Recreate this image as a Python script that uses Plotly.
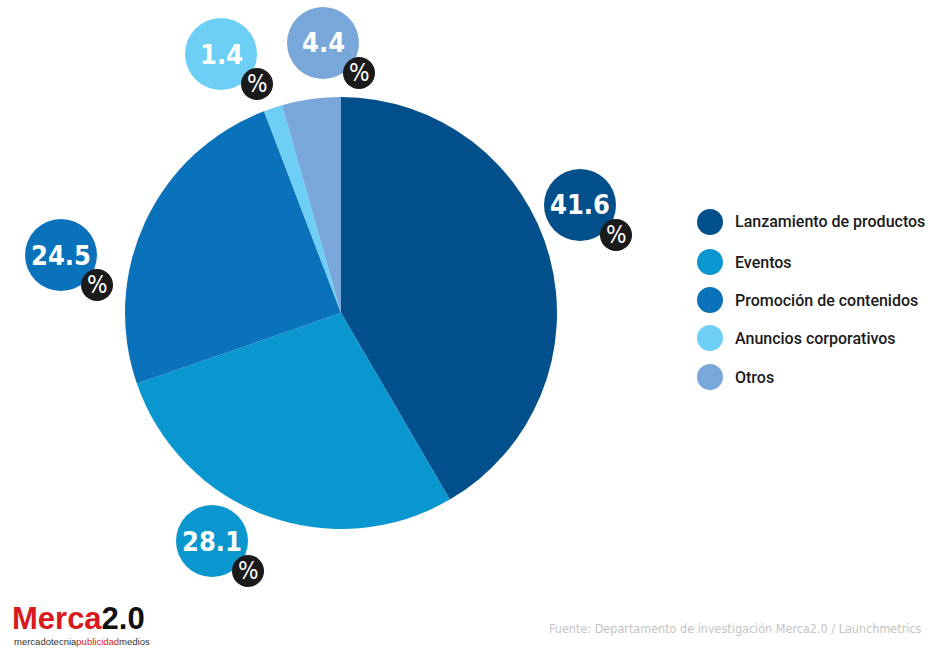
import plotly.graph_objects as go

categories = ["Lanzamiento de productos", "Eventos", "Promoción de contenidos",
              "Anuncios corporativos", "Otros"]
values = [41.6, 28.1, 24.5, 1.4, 4.4]
value_labels = ["41.6", "28.1", "24.5", "1.4", "4.4"]
colors = ["#02508b", "#0a97cf", "#0a71bb", "#6dcff6", "#79a7d9"]

W, H = 934, 648
# bubble centres (px) for each value label
bubble_pos = [(580, 205), (212, 541), (61, 255), (221, 54), (323, 43)]

def px(x):
    return x / W

def py(y):
    return 1 - y / H

FONT = "DejaVu Sans Condensed"

fig = go.Figure()
cx, cy, r = 341, 313, 216
fig.add_trace(go.Pie(
    labels=categories, values=values, sort=False, direction="clockwise",
    rotation=0, marker=dict(colors=colors, line=dict(width=0)),
    textinfo="none", hoverinfo="label+value", showlegend=False,
    domain=dict(x=[px(cx - r), px(cx + r)], y=[py(cy + r), py(cy - r)]),
))

shapes = []
annotations = []
for (bx, by), lab, col in zip(bubble_pos, value_labels, colors):
    br = 36
    shapes.append(dict(type="circle", xref="paper", yref="paper",
                       x0=px(bx - br), x1=px(bx + br), y0=py(by + br), y1=py(by - br),
                       fillcolor=col, line=dict(width=0)))
    annotations.append(dict(x=px(bx), y=py(by), xref="paper", yref="paper",
                            text=lab, showarrow=False, xanchor="center", yanchor="middle",
                            font=dict(family=FONT, size=27, color="white", weight="bold")))
    qx, qy, qr = bx + 36, by + 30, 16
    shapes.append(dict(type="circle", xref="paper", yref="paper",
                       x0=px(qx - qr), x1=px(qx + qr), y0=py(qy + qr), y1=py(qy - qr),
                       fillcolor="#1a1a1a", line=dict(width=0)))
    annotations.append(dict(x=px(qx), y=py(qy), xref="paper", yref="paper",
                            text="%", showarrow=False, xanchor="center", yanchor="middle",
                            font=dict(family=FONT, size=24, color="white")))

# custom legend
leg_y = [222, 262, 300, 338, 377]
for cat, col, ly in zip(categories, colors, leg_y):
    lr = 13
    shapes.append(dict(type="circle", xref="paper", yref="paper",
                       x0=px(710 - lr), x1=px(710 + lr), y0=py(ly + lr), y1=py(ly - lr),
                       fillcolor=col, line=dict(width=0)))
    annotations.append(dict(x=px(733), y=py(ly), xref="paper", yref="paper",
                            text=cat, showarrow=False, xanchor="left", yanchor="middle",
                            font=dict(family="Roboto", size=16, color="#1a1a1a", weight=500)))

# logo
annotations.append(dict(x=px(10), y=py(618), xref="paper", yref="paper",
                        text="<b><span style='color:#d71920'>Merca</span>2.0</b>",
                        showarrow=False, xanchor="left", yanchor="middle",
                        font=dict(family="Liberation Sans", size=31, color="#111111")))
annotations.append(dict(x=px(12), y=py(641), xref="paper", yref="paper",
                        text="mercadotecnia<span style='color:#d71920'>publicidad</span>medios",
                        showarrow=False, xanchor="left", yanchor="middle",
                        font=dict(family="Liberation Sans", size=9.5, color="#333333")))
# source
annotations.append(dict(x=px(547), y=py(628), xref="paper", yref="paper",
                        text="Fuente: Departamento de investigación Merca2.0 / Launchmetrics",
                        showarrow=False, xanchor="left", yanchor="middle",
                        font=dict(family=FONT, size=12.5, color="#c4c4c4")))

fig.update_layout(width=W, height=H, margin=dict(l=0, r=0, t=0, b=0),
                  paper_bgcolor="white", plot_bgcolor="white",
                  shapes=shapes, annotations=annotations, showlegend=False)
fig.write_html("out.html")
